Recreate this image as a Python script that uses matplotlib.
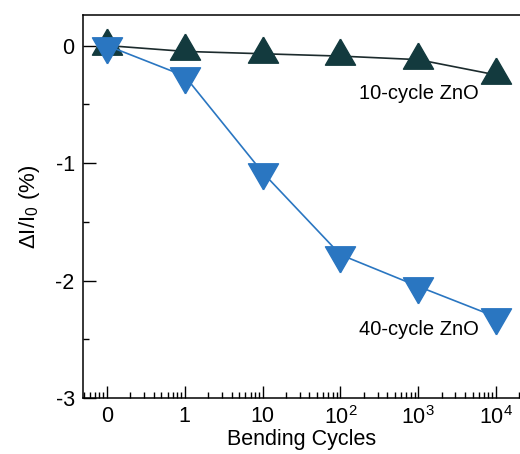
import numpy as np
import matplotlib
matplotlib.use("Agg")
import matplotlib.pyplot as plt
from matplotlib.ticker import LogLocator, FixedLocator, NullFormatter, MultipleLocator

plt.rcParams['font.family'] = ['Liberation Sans', 'DejaVu Sans']
plt.rcParams['mathtext.fontset'] = 'custom'
plt.rcParams['mathtext.rm'] = 'Liberation Sans'
plt.rcParams['mathtext.default'] = 'regular'
plt.rcParams['axes.unicode_minus'] = False

# data (0 cycles drawn at 0.1 on the log axis)
cycles = [0.1, 1, 10, 100, 1000, 10000]
tick_labels = ['0', '1', '10', '$10^{2}$', '$10^{3}$', '$10^{4}$']
zno_10 = [0, -0.05, -0.07, -0.09, -0.12, -0.25]
zno_40 = [0, -0.26, -1.08, -1.78, -2.05, -2.31]

dark = '#133a3e'
blue = '#2a76c1'

# triangles centred on their centroid
up_tri = [(0, 0.577), (-0.5, -0.289), (0.5, -0.289), (0, 0.577)]
down_tri = [(0, -0.577), (-0.5, 0.289), (0.5, 0.289), (0, -0.577)]

fig = plt.figure(figsize=(5.2, 4.54), dpi=100)
ax = fig.add_axes([0.1596, 0.1233, 0.8404, 0.8437])

ax.plot(cycles, zno_10, color='#1c2b2d', lw=1.2, marker=up_tri, ms=25,
        mfc=dark, mec=dark, zorder=3)
ax.plot(cycles, zno_40, color=blue, lw=1.2, marker=down_tri, ms=25,
        mfc=blue, mec=blue, zorder=4)

ax.set_xscale('log')
ax.set_xlim(0.0492, 10 ** 4.308)
ax.set_ylim(-3, 0.26)

ax.xaxis.set_major_locator(FixedLocator(cycles))
ax.set_xticklabels(tick_labels)
ax.xaxis.set_minor_locator(LogLocator(base=10, subs=np.arange(2, 10), numticks=20))
ax.xaxis.set_minor_formatter(NullFormatter())

ax.yaxis.set_major_locator(MultipleLocator(1))
ax.yaxis.set_minor_locator(MultipleLocator(0.5))

ax.tick_params(which='major', direction='in', length=9, width=1.0, labelsize=15.5, pad=6)
ax.tick_params(which='minor', direction='in', length=4.5, width=1.0)
ax.tick_params(axis='x', which='both', top=False)
ax.tick_params(axis='y', which='both', right=False)

for s in ['left', 'bottom', 'top']:
    ax.spines[s].set_linewidth(1.1)
ax.spines['right'].set_visible(False)

ax.set_xlabel('Bending Cycles', fontsize=15.5, labelpad=0)
ax.set_ylabel('ΔI/I$_0$ (%)', fontsize=16, labelpad=10)

ax.text(1020, -0.41, '10-cycle ZnO', fontsize=14.5, ha='center', va='center')
ax.text(1020, -2.42, '40-cycle ZnO', fontsize=14.5, ha='center', va='center')

fig.savefig('out.png', dpi=100)
